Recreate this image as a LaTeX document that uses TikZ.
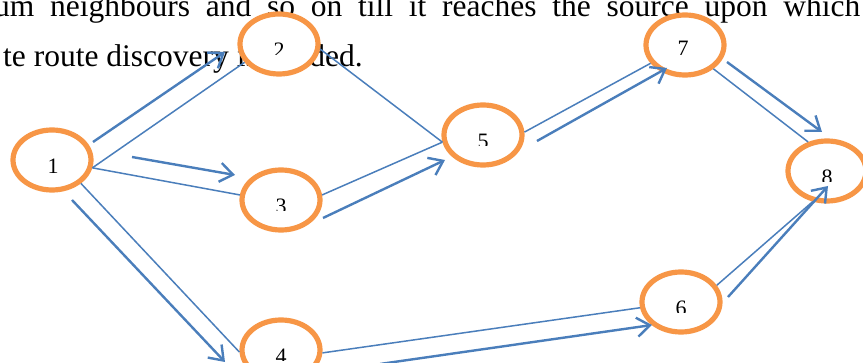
\documentclass[tikz,border=0pt]{standalone}
\usepackage{fontspec}
\setmainfont{Liberation Serif}
\usetikzlibrary{shapes.geometric,arrows.meta,calc}
\definecolor{nodeorange}{HTML}{F79646}
\definecolor{linkblue}{HTML}{4A7EBB}
\tikzset{
  para/.style={font=\fontsize{31.5}{36}\selectfont, inner sep=0pt, anchor=base west},
  stn/.style={ellipse, draw=nodeorange, line width=5.2pt, fill=white,
              minimum width=78pt, minimum height=60pt, inner sep=0pt},
  digit/.style={font=\fontsize{22}{24}\selectfont, inner sep=0pt, anchor=base},
  link/.style={draw=linkblue, line width=1.5pt},
  hop/.style={draw=linkblue, line width=2.4pt,
              -{Straight Barb[length=13pt,width=19pt]}},
}
\begin{document}
\begin{tikzpicture}[x=1pt,y=-1pt]
\useasboundingbox (0,0) rectangle (863,363);
\clip (0,0) rectangle (863,363);

% paragraph text behind the graph
\node[para] (lineA) at (-6,17)
  {\makebox[866pt][s]{um neighbours and so on till it reaches the source upon which}};
\node[para] (lineB) at (3,67) {te route discovery is\hspace*{14pt} ended.};

% stations
\node[stn] (n1) at (52,160) {};
\node[stn] (n2) at (279,44) {};
\node[stn] (n3) at (281,200) {};
\node[stn] (n4) at (281,350) {};
\node[stn] (n5) at (483,135) {};
\node[stn] (n6) at (681,302) {};
\node[stn] (n7) at (685,45) {};
\node[stn] (n8) at (827,171) {};

% station numbers (text boxes cut off at the bottom)
\node[digit] (t1) at ($(n1.center)+(1,14)$) {1};
\node[digit] (t7) at ($(n7.center)+(-2,11)$) {7};
\foreach \n/\d in {n2/2,n3/3,n4/4,n5/5,n6/6,n8/8}{
  \begin{scope}
    \clip ($(\n.center)+(-20,-10)$) rectangle ($(\n.center)+(20,11)$);
    \node[digit] (t\d) at ($(\n.center)+(0,14)$) {\d};
  \end{scope}
}

% links between stations
\draw[link] (n1.-11)  -- (n2.-152);
\draw[link] (n1.-11)  -- (n3.173);
\draw[link] (n1.-39)  -- (n4.-177);
\draw[link] (n2.-7)   -- (n5.-170);
\draw[link] (n3.7)    -- (n5.-170);
\draw[link] (n5.4)    -- (n7.-152);
\draw[link] (n7.-40)  -- (n8.123);
\draw[link] (n4.-4)   -- (n6.-172);
\draw[link] (n6.25)   -- (n8.-115);

% route request hops
\coordinate (a12s) at (93,142);  \coordinate (a12e) at (225,52);
\coordinate (a13s) at (132,157); \coordinate (a13e) at (235,175);
\coordinate (a14s) at (72,200);  \coordinate (a14e) at (225,362);
\coordinate (a35s) at (323,218); \coordinate (a35e) at (445,160);
\coordinate (a57s) at (537,141); \coordinate (a57e) at (667,68);
\coordinate (a78s) at (727,62);  \coordinate (a78e) at (822,132);
\coordinate (a46s) at (380,364); \coordinate (a46e) at (652,325);
\coordinate (a68s) at (728,297); \coordinate (a68e) at (828,186);
\draw[hop] (a12s) -- (a12e);
\draw[hop] (a13s) -- (a13e);
\draw[hop] (a14s) -- (a14e);
\draw[hop] (a35s) -- (a35e);
\draw[hop] (a57s) -- (a57e);
\draw[hop] (a78s) -- (a78e);
\draw[hop] (a46s) -- (a46e);
\draw[hop] (a68s) -- (a68e);
\end{tikzpicture}
\end{document}
